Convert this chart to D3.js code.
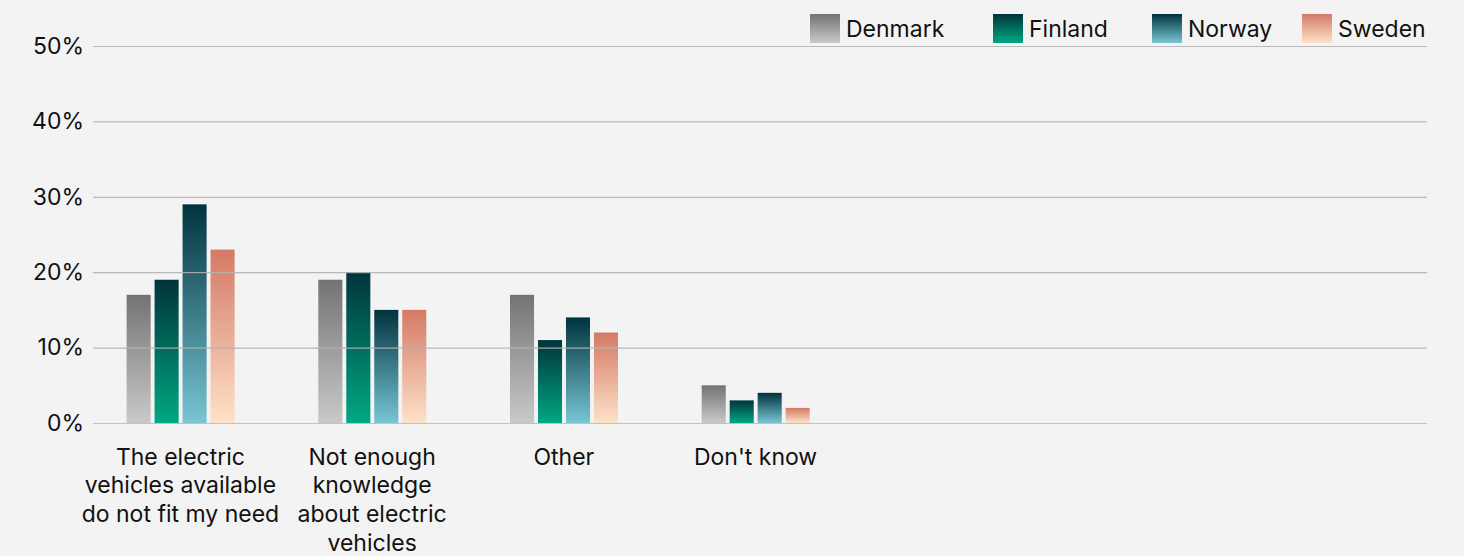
<!DOCTYPE html>
<html>
<head>
<meta charset="utf-8">
<script src="https://cdn.jsdelivr.net/npm/d3@7"></script>
<style>
  html, body { margin: 0; padding: 0; background: #f3f3f3; }
  svg { display: block; font-family: Inter, "Liberation Sans", sans-serif; }
</style>
</head>
<body>
<svg id="chart" width="1464" height="556"></svg>
<script>
// Reasons for not choosing an electric vehicle, by country (% of respondents)
const categories = [
  "The electric vehicles available do not fit my need",
  "Not enough knowledge about electric vehicles",
  "Other",
  "Don't know"
];
const categoryLines = [
  ["The electric", "vehicles available", "do not fit my need"],
  ["Not enough", "knowledge", "about electric", "vehicles"],
  ["Other"],
  ["Don't know"]
];
const series = ["Denmark", "Finland", "Norway", "Sweden"];
const denmark = [17, 19, 17, 5];
const finland = [19, 20, 11, 3];
const norway  = [29, 15, 14, 4];
const sweden  = [23, 15, 12, 2];
const yTicks = [0, 10, 20, 30, 40, 50];

const values = { Denmark: denmark, Finland: finland, Norway: norway, Sweden: sweden };

// top / bottom colours of each series' vertical gradient
const gradStops = {
  Denmark: ["#737373", "#c9c9ca"],
  Finland: ["#00343b", "#00a882"],
  Norway:  ["#00333d", "#79c5d4"],
  Sweden:  ["#d47966", "#fde2c8"]
};

const svg = d3.select("#chart");
const fontSize = 23;
const gridLeft = 93, gridRight = 1427;
const y = d3.scaleLinear().domain([0, 50]).range([423, 46]);

const x0 = d3.scaleBand().domain(categories).range([84.6, 851.4]).padding(0);
const x1 = d3.scaleBand().domain(series).range([42, 150]).paddingInner(0.14).paddingOuter(0);

const defs = svg.append("defs");
series.forEach((s, i) => {
  const g = defs.append("linearGradient")
    .attr("id", "grad" + i)
    .attr("x1", 0).attr("y1", 0).attr("x2", 0).attr("y2", 1);
  g.append("stop").attr("offset", "0%").attr("stop-color", gradStops[s][0]);
  g.append("stop").attr("offset", "100%").attr("stop-color", gradStops[s][1]);
});

// bars
const groups = svg.append("g").selectAll("g")
  .data(categories)
  .join("g")
  .attr("transform", d => `translate(${x0(d)},0)`);

groups.selectAll("rect")
  .data((d, ci) => series.map((s, si) => ({ s, si, v: values[s][ci] })))
  .join("rect")
  .attr("x", d => x1(d.s))
  .attr("width", x1.bandwidth())
  .attr("y", d => y(d.v))
  .attr("height", d => y(0) - y(d.v))
  .attr("fill", d => `url(#grad${d.si})`);

// y axis with gridlines drawn on top of the bars
const yAxis = d3.axisLeft(y)
  .tickValues(yTicks)
  .tickFormat(d => d + "%")
  .tickSize(-(gridRight - gridLeft))
  .tickPadding(9);

const ya = svg.append("g")
  .attr("transform", `translate(${gridLeft},0)`)
  .call(yAxis);
ya.select(".domain").remove();
ya.selectAll(".tick line")
  .attr("stroke", d => d === 0 ? "#bdbdbd" : "#b3b3b3")
  .attr("stroke-opacity", 0.9)
  .attr("stroke-width", 1.2);
ya.selectAll(".tick text")
  .attr("fill", "#111")
  .attr("font-size", fontSize)
  .attr("font-family", "Inter, 'Liberation Sans', sans-serif");

// category labels
const xa = svg.append("g");
categories.forEach((c, i) => {
  const cx = x0(c) + x0.bandwidth() / 2;
  const t = xa.append("text")
    .attr("x", cx)
    .attr("y", 464.5)
    .attr("text-anchor", "middle")
    .attr("font-size", fontSize)
    .attr("fill", "#111");
  categoryLines[i].forEach((line, li) => {
    t.append("tspan")
      .attr("x", cx)
      .attr("dy", li === 0 ? 0 : 28.8)
      .text(line);
  });
});

// legend: swatch + label per series, slots laid out along the top right
const legendX = [810, 993, 1152, 1302];
const swW = 30, swH = 29, swGap = 6;
const legend = svg.append("g")
  .selectAll("g")
  .data(series)
  .join("g")
  .attr("transform", (d, i) => `translate(${legendX[i]},0)`);
legend.append("rect")
  .attr("x", 0)
  .attr("y", 14)
  .attr("width", swW)
  .attr("height", swH)
  .attr("fill", (d, i) => `url(#grad${i})`);
legend.append("text")
  .attr("x", swW + swGap)
  .attr("y", 37)
  .attr("font-size", fontSize)
  .attr("fill", "#111")
  .text(d => d);
</script>
</body>
</html>
